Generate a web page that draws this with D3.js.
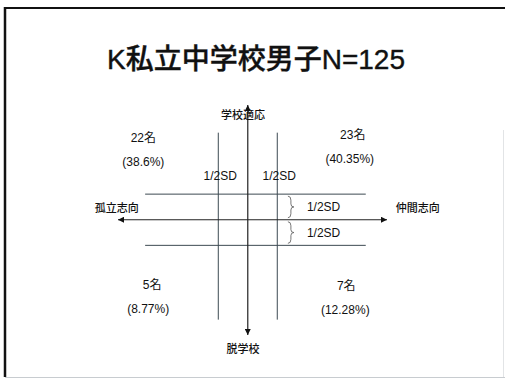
<!DOCTYPE html>
<html>
<head>
<meta charset="utf-8">
<script src="https://cdn.jsdelivr.net/npm/d3@7"></script>
<style>
  html, body { margin: 0; padding: 0; background: #fff; }
  svg { display: block; }
  text { font-family: "Liberation Sans", Arial, "Noto Sans CJK JP", sans-serif; fill: #111; }
  .cjk { font-family: "Noto Sans CJK JP", sans-serif; font-weight: 500; }
</style>
</head>
<body>
<svg id="chart" width="505" height="379"></svg>
<script>
  const W = 505, H = 379;

  // quadrant order: upper-left, upper-right, lower-left, lower-right
  const quadrantCounts = [22, 23, 5, 7];
  const quadrantPercents = ["38.6%", "40.35%", "8.77%", "12.28%"];
  const cutoffs = [-0.5, 0.5];              // ±1/2SD
  const xAxisLabels = ["孤立志向", "仲間志向"];
  const yAxisLabels = ["学校適応", "脱学校"];
  const cutLabel = "1/2SD";
  const title = "K私立中学校男子N=125";

  const svg = d3.select("#chart");

  // slide frame
  svg.append("line").attr("x1", 4).attr("x2", W).attr("y1", 8).attr("y2", 8)
    .attr("stroke", "#111").attr("stroke-width", 2);
  svg.append("line").attr("x1", 5).attr("x2", 5).attr("y1", 7).attr("y2", 377)
    .attr("stroke", "#111").attr("stroke-width", 2.5);
  svg.append("line").attr("x1", 5).attr("x2", W).attr("y1", 377.5).attr("y2", 377.5)
    .attr("stroke", "#c8ccd0").attr("stroke-width", 1);
  svg.append("line").attr("x1", 503.5).attr("x2", 503.5).attr("y1", 130).attr("y2", 377)
    .attr("stroke", "#e2e4e6").attr("stroke-width", 1);

  svg.append("text")
    .attr("x", 256).attr("y", 69)
    .attr("text-anchor", "middle")
    .attr("font-size", 28)
    .attr("font-weight", 500)
    .attr("stroke", "#111").attr("stroke-width", 0.4)
    .text(title);

  // SD-unit scales
  const x = d3.scaleLinear().domain([-2.2, 2.36]).range([118, 387]);
  const y = d3.scaleLinear().domain([2.24, -2.25]).range([105, 335]);

  const defs = svg.append("defs");
  defs.append("marker")
    .attr("id", "arrow")
    .attr("viewBox", "0 0 10 10")
    .attr("refX", 10).attr("refY", 5)
    .attr("markerWidth", 6).attr("markerHeight", 6)
    .attr("markerUnits", "userSpaceOnUse")
    .attr("orient", "auto-start-reverse")
    .append("path").attr("d", "M0,0 L10,5 L0,10 Z").attr("fill", "#111");

  const lineColor = "#3d4a52";

  // cut-off lines
  const g = svg.append("g");
  cutoffs.forEach((c) => {
    g.append("line")
      .attr("x1", x(c)).attr("x2", x(c))
      .attr("y1", y(1.7)).attr("y2", y(-1.95))
      .attr("stroke", lineColor).attr("stroke-width", 1);
    g.append("line")
      .attr("x1", x(-1.74)).attr("x2", x(2.0))
      .attr("y1", y(c)).attr("y2", y(c))
      .attr("stroke", lineColor).attr("stroke-width", 1);
  });

  // main axes with arrows
  g.append("line")
    .attr("x1", x.range()[0]).attr("x2", x.range()[1])
    .attr("y1", y(0)).attr("y2", y(0))
    .attr("stroke", "#222").attr("stroke-width", 1.2)
    .attr("marker-start", "url(#arrow)").attr("marker-end", "url(#arrow)");
  g.append("line")
    .attr("x1", x(0)).attr("x2", x(0))
    .attr("y1", y.range()[0]).attr("y2", y.range()[1])
    .attr("stroke", "#222").attr("stroke-width", 1.2)
    .attr("marker-start", "url(#arrow)").attr("marker-end", "url(#arrow)");

  // axis labels
  svg.append("text").attr("class", "cjk").attr("font-size", 11)
    .attr("x", x(-2.22)).attr("y", y(0) - 8).attr("text-anchor", "middle")
    .text(xAxisLabels[0]);
  svg.append("text").attr("class", "cjk").attr("font-size", 11)
    .attr("x", x(2.88)).attr("y", y(0) - 8).attr("text-anchor", "middle")
    .text(xAxisLabels[1]);
  svg.append("text").attr("class", "cjk").attr("font-size", 11)
    .attr("x", x(-0.08)).attr("y", y(0) - 101).attr("text-anchor", "middle")
    .text(yAxisLabels[0]);
  svg.append("text").attr("class", "cjk").attr("font-size", 11)
    .attr("x", x(-0.08)).attr("y", y(0) + 133).attr("text-anchor", "middle")
    .text(yAxisLabels[1]);

  // 1/2SD labels above the vertical cut lines
  cutoffs.forEach((c) => {
    svg.append("text").attr("font-size", 12)
      .attr("x", x(c) + 2).attr("y", y(0) - 40).attr("text-anchor", "middle")
      .text(cutLabel);
  });

  // braces for the horizontal bands
  const braceX = x(0.68);
  [[cutoffs[1], 0], [0, cutoffs[0]]].forEach(([a, b]) => {
    const y1 = y(a) + 2, y2 = y(b) - 2, ym = (y1 + y2) / 2;
    const bw = 3;
    svg.append("path")
      .attr("d", `M${braceX},${y1} Q${braceX + bw},${y1} ${braceX + bw},${y1 + 4}
                  L${braceX + bw},${ym - 3} Q${braceX + bw},${ym} ${braceX + bw + 3},${ym}
                  Q${braceX + bw},${ym} ${braceX + bw},${ym + 3}
                  L${braceX + bw},${y2 - 4} Q${braceX + bw},${y2} ${braceX},${y2}`)
      .attr("fill", "none").attr("stroke", "#555").attr("stroke-width", 0.8);
    svg.append("text").attr("font-size", 12)
      .attr("x", braceX + 19).attr("y", ym + 4)
      .text(cutLabel);
  });

  // quadrant counts
  const quadPos = [
    { cx: x(-1.77), cy: y(1.6) },
    { cx: x(1.78), cy: y(1.65) },
    { cx: x(-1.62), cy: y(-1.28) },
    { cx: x(1.67), cy: y(-1.3) }
  ];
  const quadOffsets = [[0, 0], [-3, 0], [-4, 0], [-1, 0]];
  quadrantCounts.forEach((n, i) => {
    const p = quadPos[i];
    svg.append("text").attr("font-size", 12).attr("text-anchor", "middle")
      .attr("x", p.cx).attr("y", p.cy + 4)
      .text(n + "名");
    svg.append("text").attr("font-size", 12).attr("text-anchor", "middle")
      .attr("x", p.cx + quadOffsets[i][0]).attr("y", p.cy + 28)
      .text("(" + quadrantPercents[i] + ")");
  });
</script>
</body>
</html>
